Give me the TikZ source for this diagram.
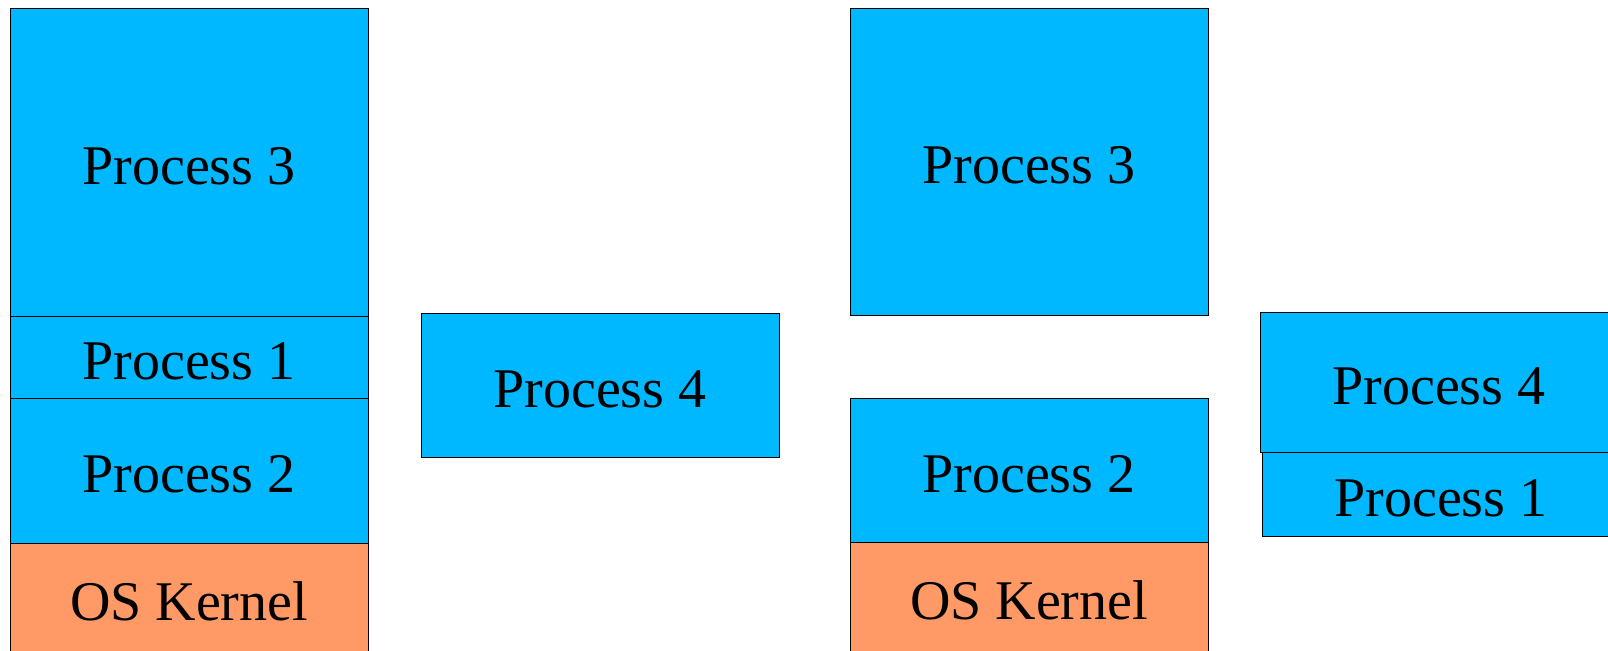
\documentclass[tikz,border=0pt]{standalone}
\usepackage{fontspec}
\setmainfont{Liberation Serif}
\usetikzlibrary{positioning}
\definecolor{procblue}{RGB}{0,184,255}
\definecolor{kernorange}{RGB}{255,153,102}

\begin{document}
\begin{tikzpicture}[x=0.5pt,y=-0.5pt,
    proc/.style={rectangle,draw,fill=procblue,line width=0.5pt,inner sep=0pt,outer sep=0pt,
        minimum width=179pt,text height=22pt,text depth=0pt,font=\fontsize{28}{34}\selectfont},
    kern/.style={proc,fill=kernorange}]
        \useasboundingbox (0,0) rectangle (1608,650);

        % 左边: 内存中的进程
        \node[proc,minimum height=154pt] (lp3) at (189,162) {Process 3};
        \node[proc,minimum height=41pt,below=0pt of lp3] (lp1) {Process 1};
        \node[proc,minimum height=72.5pt,below=0pt of lp1] (lp2) {Process 2};
        \node[kern,minimum height=55pt,below=0pt of lp2] (lkern) {OS Kernel};

        % 等待的进程
        \node[proc,minimum height=72pt] (mp4) at (600,385) {Process 4};

        % 右边: 交换之后
        \node[proc,minimum height=153.5pt] (rp3) at (1029,161.5) {Process 3};
        \node[proc,minimum height=72pt] (rp2) at (1029,470) {Process 2};
        \node[kern,minimum height=55.5pt,below=0pt of rp2] (rkern) {OS Kernel};

        % 换出的进程
        \node[proc,minimum height=70pt] (sp4) at (1439,382) {Process 4};
        \node[proc,minimum height=42pt] (sp1) at (1441,494) {Process 1};
    \end{tikzpicture}
\end{document}
